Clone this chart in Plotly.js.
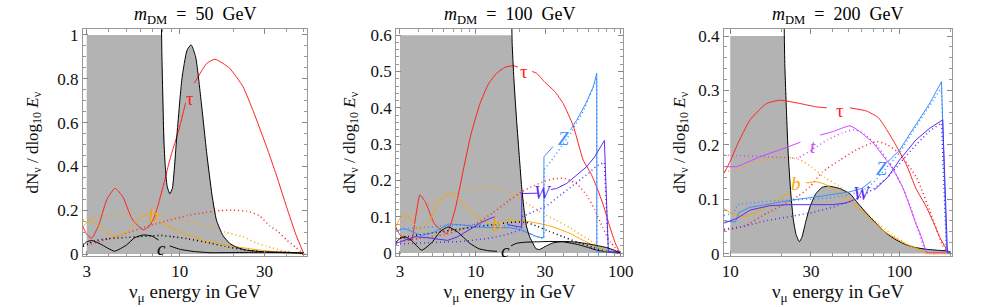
<!DOCTYPE html>
<html><head><meta charset="utf-8">
<script src="https://cdn.plot.ly/plotly-3.0.1.min.js"></script>
<style>html,body{margin:0;padding:0;background:#fff}#c{width:981px;height:307px}</style>
</head><body><div id="c"></div>
<script>
// ---------- Panel 1 : m_DM = 50 GeV ----------
const bg50_x = [7.88, 7.95, 8.05, 8.15, 8.3, 8.5, 8.8, 9.1, 9.6, 10.3, 11, 11.6, 12.3, 13.2, 14.2, 15.2, 16.1, 17.5, 19.1, 21, 23.8, 30, 40, 50];
const bg50_y = [1.1, 0.9, 0.7, 0.52, 0.4, 0.31, 0.275, 0.3, 0.52, 0.8, 0.93, 0.955, 0.9, 0.7, 0.46, 0.27, 0.155, 0.085, 0.049, 0.03, 0.018, 0.01, 0.008, 0.005];
const tau50_x = [2.86, 3.0, 3.2, 3.5, 3.9, 4.33, 4.8, 5.4, 6.24, 6.8, 7.2, 7.57, 8.2, 8.8, 10.0, 10.8, 11.4, 12.1, 14.2, 15.8, 19, 22.7, 26, 30.8, 35, 39.9, 45, 50];
const tau50_y = [0.125, 0.09, 0.072, 0.13, 0.25, 0.30, 0.26, 0.16, 0.11, 0.13, 0.17, 0.224, 0.33, 0.43, 0.58, 0.69, null, 0.78, 0.87, 0.889, 0.85, 0.764, 0.65, 0.49, 0.36, 0.216, 0.09, 0];
const tau50d_x = [2.86, 4, 5, 6.8, 8.8, 11, 14, 17, 20, 24, 28, 32, 36, 40, 45, 50];
const tau50d_y = [0.035, 0.07, 0.095, 0.13, 0.155, 0.175, 0.19, 0.198, 0.2, 0.195, 0.175, 0.13, 0.1, 0.064, 0.03, 0];
const b50_x = [2.86, 3.0, 3.2, 3.6, 4.33, 5.0, 5.8, 6.65, 7.1, 7.74, 9, 10.5, 11.9, 14, 18.3, 22, 28.2, 35, 40, 50];
const b50_y = [0.125, 0.145, 0.155, 0.12, 0.08, 0.1, 0.155, 0.186, null, 0.148, 0.12, 0.095, 0.079, 0.06, 0.041, 0.03, 0.018, 0.01, 0.007, 0];
const b50d_x = [2.86, 3.5, 4.5, 5.5, 6.5, 8.8, 11, 14.9, 18, 22.7, 27, 30.8, 40, 50];
const b50d_y = [0.155, 0.17, 0.18, 0.187, 0.19, 0.17, 0.15, 0.125, 0.1, 0.079, 0.05, 0.036, 0.01, 0];
const c50_x = [2.86, 3.0, 3.2, 3.6, 4.3, 5.0, 5.6, 6.24, 7.0, 7.6, 8.0, 8.8, 10, 11.9, 15, 20, 30, 40, 50];
const c50_y = [0.04, 0.055, 0.062, 0.045, 0.013, 0.04, 0.075, 0.087, 0.082, 0.064, null, 0.037, 0.022, 0.012, 0.006, 0.007, 0.008, 0.006, 0.003];
const c50d_x = [2.86, 3.3, 4, 5, 6, 7, 7.7, 9, 11, 14.9, 18, 22.7, 30, 40, 50];
const c50d_y = [0.035, 0.06, 0.07, 0.075, 0.08, 0.083, 0.085, 0.08, 0.07, 0.05, 0.035, 0.02, 0.01, 0.007, 0.003];

// ---------- Panel 2 : m_DM = 100 GeV ----------
const bg100_x = [17.6, 17.8, 18.3, 19.1, 20, 20.7, 21.5, 22.4, 23.5, 24.9, 26, 27.5, 30, 34, 40, 50, 60, 70, 80, 90, 99];
const bg100_y = [0.7, 0.58, 0.48, 0.366, 0.26, 0.183, 0.12, 0.072, 0.045, 0.025, 0.012, 0.01, 0.018, 0.028, 0.032, 0.03, 0.025, 0.02, 0.015, 0.008, 0];
const tau100_x = [2.82, 3.0, 3.3, 3.6, 3.85, 4.12, 4.5, 5.2, 6.3, 7.2, 8.2, 9.3, 10.7, 12.2, 13.9, 16, 18.1, 19.5, 21.6, 24.5, 26.3, 30, 35, 40, 47, 55, 62, 68, 76, 84, 92, 99];
const tau100_y = [0.07, 0.05, 0.038, 0.036, 0.1, 0.16, 0.14, 0.08, 0.054, 0.12, 0.229, 0.33, 0.412, 0.465, 0.495, 0.512, 0.516, 0.512, null, 0.5, 0.495, 0.47, 0.445, 0.412, 0.35, 0.256, 0.22, 0.183, 0.13, 0.072, 0.025, 0];
const tau100d_x = [2.82, 4, 6, 8, 10, 13, 17, 21, 25, 30, 35, 40, 45, 50, 58, 66, 75, 85, 99];
const tau100d_y = [0.03, 0.04, 0.05, 0.065, 0.08, 0.11, 0.145, 0.17, 0.185, 0.198, 0.205, 0.206, 0.2, 0.19, 0.16, 0.12, 0.07, 0.03, 0];
const b100_x = [2.82, 3.0, 3.25, 3.6, 4.1, 4.8, 5.6, 6.46, 7.5, 8.5, 9.6, 11, 12.5, 13.9, 15.5, 18.1, 23.7, 30, 37, 44.6, 55, 68, 80, 99];
const b100_y = [0.075, 0.095, 0.109, 0.09, 0.063, 0.09, 0.14, 0.164, 0.15, 0.13, 0.109, 0.092, 0.08, null, 0.09, 0.091, 0.086, 0.078, 0.067, 0.054, 0.035, 0.017, 0.003, 0];
const b100d_x = [2.82, 3.5, 4.5, 6, 8, 10.7, 13, 15, 19.2, 24, 29, 36, 44.6, 52, 61, 70, 80, 99];
const b100d_y = [0.07, 0.1, 0.13, 0.155, 0.172, 0.18, 0.18, 0.175, 0.155, 0.13, 0.109, 0.09, 0.07, 0.052, 0.036, 0.018, 0.004, 0];
const Z100_x = [2.82, 3.2, 3.6, 4.2, 5, 6.5, 8, 10, 13, 17, 20, 23, 26.5, 29.4, 29.5, 34, 40, 45, 49.6, 57, 64.6, 68.2, 68.3, 72, 85, 99];
const Z100_y = [0.06, 0.068, 0.06, 0.048, 0.055, 0.08, 0.078, 0.072, 0.07, 0.07, 0.065, 0.055, 0.045, 0.042, 0.265, 0.293, null, 0.34, 0.366, 0.41, 0.458, 0.495, 0.003, 0.003, 0.003, 0.003];
const Z100d_x = [2.82, 4, 6, 9, 13, 18, 22, 26, 29.5, 29.6, 34, 45, 55, 65, 68.2, 68.3, 99];
const Z100d_y = [0.065, 0.07, 0.075, 0.078, 0.077, 0.075, 0.06, 0.045, 0.04, 0.23, 0.26, 0.33, 0.39, 0.46, 0.48, 0.003, 0.003];
const W100_x = [2.82, 3.2, 3.8, 4.5, 5.5, 6.4, 7.5, 9, 11, 12.5, 13.5, 14.5, 16.5, 17.2, 20.1, 20.7, 20.75, 24, 27, 29.2, 33, 36.1, 42.4, 50, 58.2, 66, 72, 77, 82, 99];
const W100_y = [0.027, 0.035, 0.045, 0.043, 0.038, 0.035, 0.045, 0.065, 0.085, 0.095, 0.1, null, 0.08, 0.077, 0.072, 0.072, 0.164, 0.165, 0.165, null, 0.175, 0.178, 0.192, 0.215, 0.238, 0.265, 0.29, 0.31, 0.003, 0.003];
const W100d_x = [2.82, 5, 8, 12, 16, 19, 20.7, 20.8, 25, 30.8, 37, 44.6, 52, 60, 68, 77, 82, 99];
const W100d_y = [0.025, 0.028, 0.032, 0.04, 0.05, 0.06, 0.065, 0.1, 0.115, 0.13, 0.155, 0.18, 0.2, 0.22, 0.24, 0.25, 0.003, 0.003];
const c100_x = [2.82, 3.0, 3.25, 3.6, 4.24, 5, 5.7, 6.46, 7.5, 9.1, 10.5, 12.5, 14, 15.9, 17.5, 19.1, 22, 26.3, 33, 40, 50, 60, 68.2, 80, 99];
const c100_y = [0.03, 0.04, 0.045, 0.035, 0.008, 0.03, 0.06, 0.072, 0.058, 0.027, 0.012, 0.006, 0.005, null, 0.02, 0.027, 0.03, 0.031, 0.032, 0.031, 0.024, 0.015, 0.008, 0.003, 0];
const c100d_x = [2.82, 4, 6, 9, 13, 18, 22, 26, 32, 40, 50, 65, 80, 99];
const c100d_y = [0.04, 0.05, 0.06, 0.07, 0.078, 0.085, 0.085, 0.075, 0.06, 0.045, 0.03, 0.015, 0.005, 0];

// ---------- Panel 3 : m_DM = 200 GeV ----------
const bg200_x = [20.6, 20.8, 21, 21.5, 22, 22.8, 23.6, 24.5, 25.6, 26.5, 28, 29.6, 32, 35, 38, 44, 51, 57, 64, 73, 84, 96, 110, 125, 144, 170, 190, 200];
const bg200_y = [0.5, 0.43, 0.35, 0.26, 0.184, 0.11, 0.062, 0.035, 0.022, 0.03, 0.06, 0.086, 0.11, 0.122, 0.124, 0.12, 0.11, 0.092, 0.074, 0.055, 0.037, 0.025, 0.016, 0.011, 0.008, 0.006, 0.005, 0.003];
const tau200_x = [9.2, 10, 11, 13.1, 16.4, 19.7, 25.8, 32, 37.1, 44.5, 51, 64, 75, 84, 95, 110, 125, 144, 160, 173, 190, 200];
const tau200_y = [0.148, 0.17, 0.2, 0.246, 0.276, 0.282, 0.276, 0.27, 0.268, null, 0.268, 0.262, 0.25, 0.228, 0.2, 0.163, 0.12, 0.086, 0.055, 0.03, 0.008, 0];
const tau200d_x = [9.2, 12, 16.4, 20, 25, 29.6, 35, 44.5, 55, 73, 85, 100, 126, 158, 180, 195, 200];
const tau200d_y = [0.043, 0.05, 0.074, 0.088, 0.105, 0.123, 0.15, 0.172, 0.19, 0.206, 0.2, 0.184, 0.14, 0.062, 0.015, 0.002, 0];
const t200_x = [9.2, 10.9, 12, 15, 21.4, 26, 30.9, 34, 40, 47, 51, 58, 70, 80, 92, 105, 115, 125, 132, 140, 144, 150, 190, 200];
const t200_y = [0.16, 0.16, 0.165, 0.178, 0.195, 0.205, null, 0.218, 0.224, 0.232, 0.235, 0.225, 0.203, 0.18, 0.154, 0.12, 0.087, 0.055, 0.038, 0.015, 0.003, 0.002, 0.002, 0];
const t200d_x = [9.2, 12, 16, 20, 25, 30, 38, 46, 54, 62, 75, 90, 105, 118, 130, 140, 148, 200];
const t200d_y = [0.181, 0.18, 0.178, 0.177, 0.176, 0.19, 0.21, 0.222, 0.228, 0.22, 0.195, 0.16, 0.12, 0.08, 0.04, 0.01, 0.002, 0.002];
const b200_x = [9.2, 10, 11.9, 14, 16.4, 19.5, 22.5, 24.5, 28, 32, 36, 42, 51, 64, 84, 110, 130, 140, 150, 200];
const b200_y = [0.083, 0.075, 0.068, 0.075, 0.086, 0.1, 0.113, null, 0.13, 0.132, 0.128, 0.115, 0.097, 0.069, 0.038, 0.017, 0.008, 0.002, 0, 0];
const b200d_x = [9.2, 11, 14, 18, 22, 26, 30, 36, 44.5, 52, 60, 75, 90, 110, 130, 145, 200];
const b200d_y = [0.15, 0.155, 0.168, 0.176, 0.177, 0.172, 0.16, 0.14, 0.123, 0.1, 0.08, 0.055, 0.035, 0.018, 0.008, 0, 0];
const Z200_x = [9.2, 10.7, 10.8, 11.2, 13, 16, 20, 25, 30, 40, 50, 60, 68, 78, 86, 100, 115, 130, 150, 177, 190, 200];
const Z200_y = [0.06, 0.058, 0.06, 0.075, 0.085, 0.09, 0.095, 0.1, 0.103, 0.108, 0.113, 0.12, 0.133, null, 0.17, 0.19, 0.22, 0.245, 0.275, 0.316, 0.003, 0.003];
const Z200d_x = [9.2, 10.5, 11, 15, 20, 30, 40, 50, 60, 70, 85, 100, 120, 150, 177, 190, 200];
const Z200d_y = [0.07, 0.075, 0.09, 0.095, 0.098, 0.1, 0.103, 0.108, 0.115, 0.13, 0.16, 0.185, 0.225, 0.27, 0.305, 0.003, 0.003];
const W200_x = [9.2, 11, 13.1, 17, 22, 30, 40, 48, 53, 60.4, 71, 85, 100, 125, 150, 180, 192, 200];
const W200_y = [0.056, 0.065, 0.08, 0.088, 0.09, 0.09, 0.09, 0.093, 0.098, null, 0.117, 0.14, 0.172, 0.209, 0.23, 0.246, 0.003, 0.003];
const W200d_x = [9.2, 12, 16, 20, 25, 30, 40, 50, 60, 71, 85, 100, 125, 150, 177, 190, 200];
const W200d_y = [0.045, 0.05, 0.06, 0.065, 0.07, 0.075, 0.085, 0.095, 0.105, 0.12, 0.14, 0.165, 0.2, 0.225, 0.24, 0.003, 0.003];

// curve labels
const lab50 = {text: ['τ', '<i>b</i>', '<i>c</i>'], x: [11.4, 7.16, 7.9], y: [0.71, 0.174, 0.026]};
const lab100 = {text: ['τ', '<i>Z</i>', '<i>W</i>', '<i>b</i>', '<i>c</i>'], x: [21.6, 40, 29.2, 13.9, 15.9], y: [0.5, 0.316, 0.167, 0.08, 0.008]};
const lab200 = {text: ['τ', '<i>t</i>', '<i>Z</i>', '<i>W</i>', '<i>b</i>'], x: [44.5, 30.9, 78, 60.4, 24.5], y: [0.264, 0.197, 0.157, 0.111, 0.129]};

// titles / ticks
const massLabels = ['50', '100', '200'];
const bgCap = [1.0, 0.6, 0.4];
const bgStart = [3, 3, 10];
const xTickVals = [[3, 10, 30], [3, 10, 30, 100], [10, 30, 100]];
const xMinorVals = [[4, 5, 6, 7, 8, 9, 20, 40, 50], [4, 5, 6, 7, 8, 9, 20, 40, 50, 60, 70, 80, 90], [20, 40, 50, 60, 70, 80, 90, 200]];
const yTickVals = [[0, 0.2, 0.4, 0.6, 0.8, 1], [0, 0.1, 0.2, 0.3, 0.4, 0.5, 0.6], [0, 0.1, 0.2, 0.3, 0.4]];
const yTickText = [['0', '0.2', '0.4', '0.6', '0.8', '1'], ['0', '0.1', '0.2', '0.3', '0.4', '0.5', '0.6'], ['0', '0.1', '0.2', '0.3', '0.4']];

// ---------- build ----------
const RED = '#ff2020', ORANGE = '#ffa500', ZB = '#3b8eff', WP = '#5a2cf5', TM = '#cc44ff', BLK = '#000000';
const FONT = 'Liberation Serif, Times New Roman, serif';
const traces = [];
function line(x, y, color, dotted, ax, shape) {
  traces.push({x: x, y: y, type: 'scatter', mode: 'lines', xaxis: 'x' + ax, yaxis: 'y' + ax,
    line: {color: color, width: dotted ? 1.5 : 1.0, dash: dotted ? '1px,3px' : 'solid', shape: shape || 'spline', smoothing: 0.5},
    connectgaps: false, hoverinfo: 'skip', showlegend: false});
}
function gray(bx, by, i, ax) {
  const cap = bgCap[i];
  const gx = [bgStart[i], bgStart[i]].concat(bx, [bx[bx.length - 1]]);
  const gy = [0, cap].concat(by.map(v => Math.min(v, cap)), [0]);
  traces.push({x: gx, y: gy, type: 'scatter', mode: 'lines', fill: 'toself', fillcolor: '#b3b3b3',
    line: {width: 0, color: 'rgba(0,0,0,0)'}, xaxis: 'x' + ax, yaxis: 'y' + ax, hoverinfo: 'skip', showlegend: false});
}
const L = 'linear';
// panel 1
gray(bg50_x, bg50_y, 0, '');
line(tau50d_x, tau50d_y, RED, true, ''); line(b50d_x, b50d_y, ORANGE, true, ''); line(c50d_x, c50d_y, BLK, true, '');
line(tau50_x, tau50_y, RED, false, ''); line(b50_x, b50_y, ORANGE, false, ''); line(c50_x, c50_y, BLK, false, '');
line(bg50_x, bg50_y, BLK, false, '');
// panel 2
gray(bg100_x, bg100_y, 1, '2');
line(tau100d_x, tau100d_y, RED, true, '2'); line(b100d_x, b100d_y, ORANGE, true, '2'); line(c100d_x, c100d_y, BLK, true, '2');
line(Z100d_x, Z100d_y, ZB, true, '2', L); line(W100d_x, W100d_y, WP, true, '2', L);
line(tau100_x, tau100_y, RED, false, '2'); line(b100_x, b100_y, ORANGE, false, '2'); line(c100_x, c100_y, BLK, false, '2');
line(Z100_x, Z100_y, ZB, false, '2', L); line(W100_x, W100_y, WP, false, '2', L);
line(bg100_x, bg100_y, BLK, false, '2');
// panel 3
gray(bg200_x, bg200_y, 2, '3');
line(tau200d_x, tau200d_y, RED, true, '3'); line(b200d_x, b200d_y, ORANGE, true, '3'); line(t200d_x, t200d_y, TM, true, '3');
line(Z200d_x, Z200d_y, ZB, true, '3', L); line(W200d_x, W200d_y, WP, true, '3', L);
line(bg200_x, bg200_y, BLK, false, '3');
line(tau200_x, tau200_y, RED, false, '3'); line(b200_x, b200_y, ORANGE, false, '3'); line(t200_x, t200_y, TM, false, '3');
line(Z200_x, Z200_y, ZB, false, '3', L); line(W200_x, W200_y, WP, false, '3', L);

const labColors = [[RED, ORANGE, BLK], [RED, ZB, WP, ORANGE, BLK], [RED, TM, ZB, WP, ORANGE]];
const annotations = [];
[lab50, lab100, lab200].forEach((Lb, i) => {
  const ax = i === 0 ? '' : String(i + 1);
  Lb.text.forEach((t, j) => annotations.push({text: t, x: Math.log10(Lb.x[j]), y: Lb.y[j], xref: 'x' + ax, yref: 'y' + ax,
    xanchor: 'center', yanchor: 'middle', showarrow: false, font: {family: FONT, size: 19, color: labColors[i][j]}}));
});
const xDom = [[0.0846, 0.3129], [0.4037, 0.6351], [0.738, 0.9704]];
const yTitleX = [33, 350, 680];
massLabels.forEach((m, i) => {
  annotations.push({text: '<i>m</i><sub>DM</sub>&nbsp;&nbsp;=&nbsp;&nbsp;' + m + '&nbsp;&nbsp;GeV',
    xref: 'paper', yref: 'paper', x: (xDom[i][0] + xDom[i][1]) / 2, y: 1, xanchor: 'center', yanchor: 'bottom', yshift: 0, showarrow: false,
    font: {family: FONT, size: 18, color: '#000'}});
  annotations.push({text: 'dN<sub>ν</sub> / dlog<sub>10</sub> <i>E</i><sub>ν</sub>', textangle: -90,
    xref: 'paper', yref: 'paper', x: yTitleX[i] / 981, y: 0.5, xanchor: 'center', yanchor: 'middle', showarrow: false,
    font: {family: FONT, size: 17, color: '#111'}});
});

const xRanges = [[Math.log10(2.86), Math.log10(52)], [0.45, 2.015], [0.963, 2.31]];
const yRanges = [[-0.009, 1.027], [-0.008, 0.617], [-0.0044, 0.413]];
const yMinor = [0.05, 0.02, 0.02];
const layout = {width: 981, height: 307, margin: {l: 0, r: 0, t: 29, b: 51}, paper_bgcolor: '#fff', plot_bgcolor: '#fff',
  font: {family: FONT, size: 16, color: '#111'}, annotations: annotations, showlegend: false};
for (let i = 0; i < 3; i++) {
  const s = i === 0 ? '' : String(i + 1);
  layout['xaxis' + s] = {type: 'log', domain: xDom[i], range: xRanges[i], anchor: 'y' + s,
    tickmode: 'array', tickvals: xTickVals[i], ticktext: xTickVals[i].map(String),
    ticks: 'inside', ticklen: 5, tickcolor: '#888', showline: true, linecolor: '#999', linewidth: 1, mirror: 'allticks',
    showgrid: false, zeroline: false, tickfont: {family: FONT, size: 17, color: '#111'},
    minor: {tickvals: xMinorVals[i], ticks: 'inside', ticklen: 3, tickcolor: '#999'},
    title: {text: 'ν<sub>μ</sub> energy in GeV', font: {family: FONT, size: 19, color: '#111'}, standoff: 1}, automargin: false};
  layout['yaxis' + s] = {domain: [0, 1], range: yRanges[i], anchor: 'x' + s,
    tickmode: 'array', tickvals: yTickVals[i], ticktext: yTickText[i],
    ticks: 'inside', ticklen: 5, tickcolor: '#888', showline: true, linecolor: '#999', linewidth: 1, mirror: 'allticks',
    showgrid: false, zeroline: false, tickfont: {family: FONT, size: 17, color: '#111'},
    minor: {dtick: yMinor[i], ticks: 'inside', ticklen: 3, tickcolor: '#999'}, automargin: false};
}
Plotly.newPlot('c', traces, layout, {staticPlot: true, displayModeBar: false});
</script></body></html>
